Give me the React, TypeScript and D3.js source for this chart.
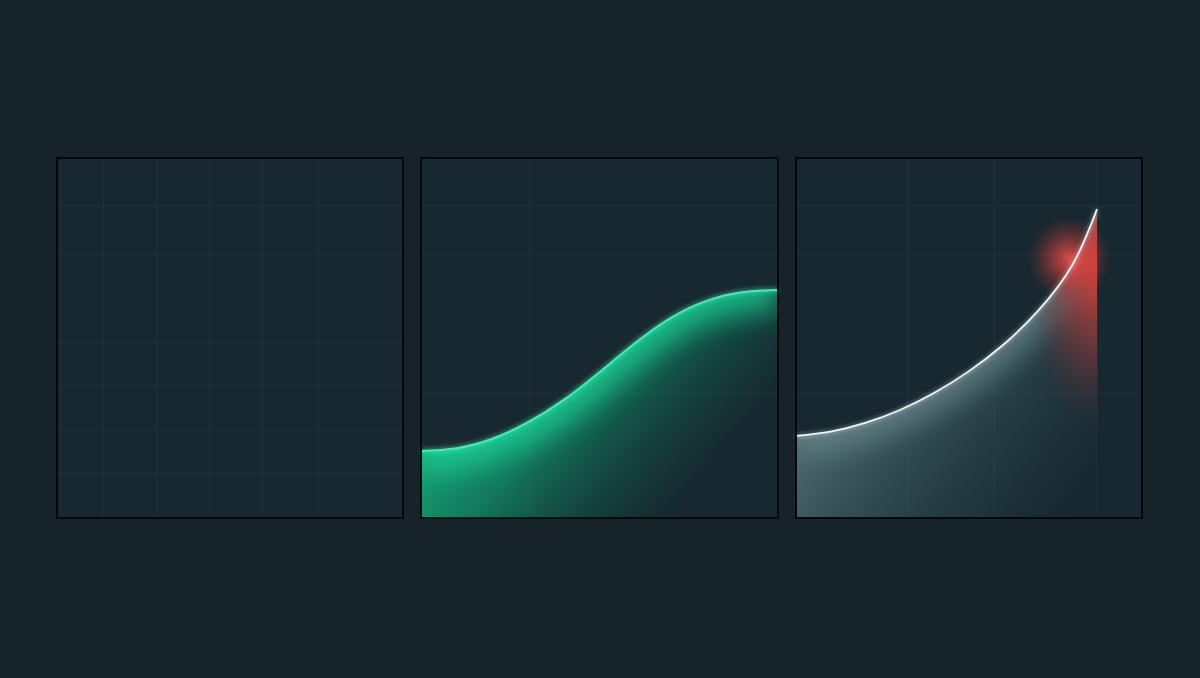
import { useMemo } from "react";
import * as d3 from "d3";

const width = 1200;
const height = 678;
const panelTop = 158;
const panelBottom = 518;

// panel frames (left / right edges)
const panelLeft = [57, 421, 796];
const panelRight = [403, 778, 1142];

// grid lines, in percent of each panel
const emptyGridX = [13.3, 28.9, 44.2, 59.5, 75.4];
const emptyGridY = [86.7, 73.3, 48.7, 36.7, 24.4, 12.5];
const growthGridX = [30.5];
const growthGridY = [86.7, 73.3, 34.7];
const surgeGridX = [32.2, 57.4, 87];
const surgeGridY = [86.7, 73.3, 34.7];

// series
const growthX = [0, 10, 20, 30, 40, 50, 60, 70, 80, 90, 100];
const growthY = [18.6, 19.4, 22.0, 26.6, 32.8, 40.5, 48.6, 55.6, 60.3, 62.7, 63.3];
const surgeX = [0, 10, 20, 30, 40, 50, 60, 70, 80, 87];
const surgeY = [22.8, 24.0, 26.4, 30.0, 34.8, 40.8, 48.2, 57.6, 70.5, 85.8];

const bg = "#16242a";
const panelFill = "#172830";
const gridColor = "#1f353d";

type Pt = [number, number];

const makeScales = (i: number) => {
  const x = d3.scaleLinear().domain([0, 100]).range([panelLeft[i], panelRight[i]]);
  const y = d3.scaleLinear().domain([0, 100]).range([panelBottom, panelTop]);
  return { x, y };
};

const Grid = ({ i, gx, gy }: { i: number; gx: number[]; gy: number[] }) => {
  const { x, y } = makeScales(i);
  return (
    <g>
      <rect
        x={panelLeft[i]}
        y={panelTop}
        width={panelRight[i] - panelLeft[i]}
        height={panelBottom - panelTop}
        fill={panelFill}
      />
      {gx.map((v) => (
        <line key={"x" + v} x1={x(v)} x2={x(v)} y1={panelTop} y2={panelBottom} stroke={gridColor} strokeWidth={1} />
      ))}
      {gy.map((v) => (
        <line key={"y" + v} x1={panelLeft[i]} x2={panelRight[i]} y1={y(v)} y2={y(v)} stroke={gridColor} strokeWidth={1} />
      ))}
    </g>
  );
};

const Frame = ({ i }: { i: number }) => (
  <rect
    x={panelLeft[i]}
    y={panelTop}
    width={panelRight[i] - panelLeft[i]}
    height={panelBottom - panelTop}
    fill="none"
    stroke="#03080a"
    strokeWidth={2}
  />
);

const App = () => {
  const g = useMemo(() => {
    const s2 = makeScales(1);
    const pts2: Pt[] = growthX.map((v, k) => [v, growthY[k]]);
    const line2 = d3.line<Pt>().x((d) => s2.x(d[0])).y((d) => s2.y(d[1])).curve(d3.curveNatural);
    const area2 = d3
      .area<Pt>()
      .x((d) => s2.x(d[0]))
      .y0(s2.y(0))
      .y1((d) => s2.y(d[1]))
      .curve(d3.curveNatural);

    const s3 = makeScales(2);
    const pts3: Pt[] = surgeX.map((v, k) => [v, surgeY[k]]);
    const line3 = d3.line<Pt>().x((d) => s3.x(d[0])).y((d) => s3.y(d[1])).curve(d3.curveNatural);
    const area3 = d3
      .area<Pt>()
      .x((d) => s3.x(d[0]))
      .y0(s3.y(0))
      .y1((d) => s3.y(d[1]))
      .curve(d3.curveNatural);

    const last = pts3[pts3.length - 1];
    return {
      s2,
      s3,
      line2: line2(pts2) ?? "",
      area2: area2(pts2) ?? "",
      line3: line3(pts3) ?? "",
      area3: area3(pts3) ?? "",
      endX: s3.x(last[0]),
      endY: s3.y(last[1]),
      glowX: s3.x(79),
      glowY: s3.y(72),
    };
  }, []);

  return (
    <svg
      width={width}
      height={height}
      style={{ position: "absolute", left: 0, top: 0, display: "block" }}
    >
      <defs>
        <filter id="blurBig" x="-50%" y="-50%" width="200%" height="200%">
          <feGaussianBlur stdDeviation={14} />
        </filter>
        <filter id="blurSmall" x="-20%" y="-20%" width="140%" height="140%">
          <feGaussianBlur stdDeviation={2} />
        </filter>
        <clipPath id="clip2">
          <path d={g.area2} />
        </clipPath>
        <clipPath id="clip3">
          <path d={g.area3} />
        </clipPath>
        <linearGradient
          id="fill2"
          gradientUnits="userSpaceOnUse"
          x1={g.s2.x(10)}
          y1={g.s2.y(60)}
          x2={g.s2.x(82)}
          y2={g.s2.y(-2)}
        >
          <stop offset="0" stopColor="#1bd495" stopOpacity={1} />
          <stop offset="0.45" stopColor="#129a6f" stopOpacity={0.7} />
          <stop offset="0.9" stopColor="#0c5a45" stopOpacity={0} />
        </linearGradient>
        <linearGradient
          id="fill3"
          gradientUnits="userSpaceOnUse"
          x1={g.s3.x(5)}
          y1={g.s3.y(45)}
          x2={g.s3.x(75)}
          y2={g.s3.y(-5)}
        >
          <stop offset="0" stopColor="#5b7a81" stopOpacity={1} />
          <stop offset="0.5" stopColor="#3c5960" stopOpacity={0.6} />
          <stop offset="1" stopColor="#2a434a" stopOpacity={0} />
        </linearGradient>
        <radialGradient
          id="red3"
          gradientUnits="userSpaceOnUse"
          cx={g.endX}
          cy={g.s3.y(70)}
          r={160}
          gradientTransform={`translate(${g.endX} ${g.s3.y(70)}) scale(0.45 1) translate(${-g.endX} ${-g.s3.y(70)})`}
        >
          <stop offset="0" stopColor="#e5433b" stopOpacity={0.95} />
          <stop offset="0.5" stopColor="#b83a38" stopOpacity={0.45} />
          <stop offset="1" stopColor="#6a2a30" stopOpacity={0} />
        </radialGradient>
        <radialGradient id="redGlow">
          <stop offset="0" stopColor="#f0504a" stopOpacity={0.9} />
          <stop offset="0.45" stopColor="#d8403c" stopOpacity={0.5} />
          <stop offset="1" stopColor="#a03030" stopOpacity={0} />
        </radialGradient>
      </defs>

      <rect width={width} height={height} fill={bg} />

      {/* panel 1: empty grid */}
      <Grid i={0} gx={emptyGridX} gy={emptyGridY} />
      <Frame i={0} />

      {/* panel 2: green sigmoid */}
      <Grid i={1} gx={growthGridX} gy={growthGridY} />
      <path d={g.area2} fill="url(#fill2)" />
      <g clipPath="url(#clip2)">
        <path d={g.line2} fill="none" stroke="#1fd89a" strokeWidth={40} opacity={0.75} filter="url(#blurBig)" />
      </g>
      <path d={g.line2} fill="none" stroke="#2ee8a8" strokeWidth={5} opacity={0.5} filter="url(#blurSmall)" />
      <path d={g.line2} fill="none" stroke="#3cf0b6" strokeWidth={2} />
      <Frame i={1} />

      {/* panel 3: surge curve */}
      <Grid i={2} gx={surgeGridX} gy={surgeGridY} />
      <path d={g.area3} fill="url(#fill3)" />
      <g clipPath="url(#clip3)">
        <path d={g.line3} fill="none" stroke="#6d8c93" strokeWidth={36} opacity={0.7} filter="url(#blurBig)" />
        <rect
          x={g.s3.x(40)}
          y={panelTop}
          width={g.endX - g.s3.x(40)}
          height={panelBottom - panelTop}
          fill="url(#red3)"
        />
      </g>
      <circle cx={g.glowX} cy={g.glowY} r={42} fill="url(#redGlow)" />
      <path d={g.line3} fill="none" stroke="#ffffff" strokeWidth={4} opacity={0.3} filter="url(#blurSmall)" />
      <path d={g.line3} fill="none" stroke="#eef6f8" strokeWidth={1.8} />
      <Frame i={2} />
    </svg>
  );
};

export default App;
